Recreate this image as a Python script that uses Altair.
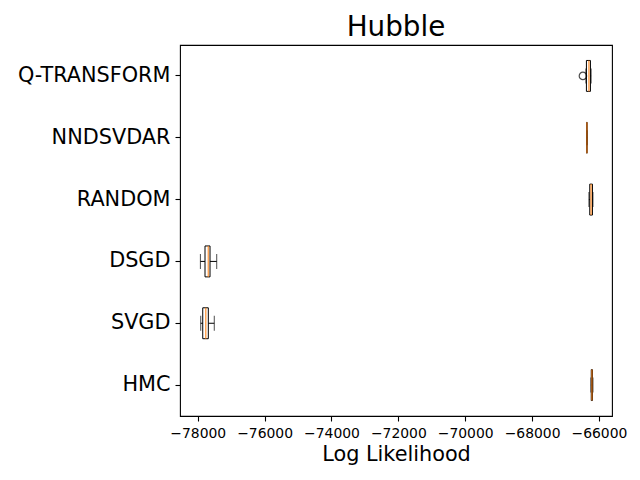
import altair as alt
import pandas as pd

methods = ["Q-TRANSFORM", "NNDSVDAR", "RANDOM", "DSGD", "SVGD", "HMC"]
whisker_lo = [-66390, -66370, -66300, -77920, -77910, -66240]
q1 = [-66375, -66365, -66275, -77782, -77850, -66230]
median = [-66300, -66360, -66235, -77683, -77760, -66210]
q3 = [-66255, -66355, -66195, -77632, -77683, -66195]
whisker_hi = [-66235, -66350, -66180, -77432, -77505, -66180]

outlier_methods = ["Q-TRANSFORM"]
outlier_values = [-66480]

x_ticks = [-78000, -76000, -74000, -72000, -70000, -68000, -66000]
x_domain = [-78530, -65610]

df = pd.DataFrame({"method": methods, "lo": whisker_lo, "q1": q1,
                   "med": median, "q3": q3, "hi": whisker_hi})
out = pd.DataFrame({"method": outlier_methods, "v": outlier_values})

FONT = "DejaVu Sans"
xscale = alt.Scale(domain=x_domain, nice=False, zero=False)
yenc = alt.Y("method:N", sort=methods,
             scale=alt.Scale(paddingInner=0, paddingOuter=0),
             axis=alt.Axis(title=None, labelFontSize=20.8, labelPadding=5,
                           ticks=True, tickSize=5, domain=False, grid=False))
xaxis = alt.Axis(title="Log Likelihood", titleFontSize=20.8, titleFontWeight="normal",
                 titlePadding=5, labelFontSize=13.9, values=x_ticks,
                 labelExpr="replace(format(datum.value, 'd'), '-', '\u2212')",
                 tickSize=5, labelPadding=5, domain=False, grid=False)

base = alt.Chart(df)

w1 = base.mark_rule(color="black", strokeWidth=1).encode(
    x=alt.X("lo:Q", scale=xscale, axis=xaxis), x2="q1:Q", y=yenc)
w2 = base.mark_rule(color="black", strokeWidth=1).encode(
    x=alt.X("q3:Q", scale=xscale), x2="hi:Q", y=yenc)
cap1 = base.mark_tick(color="black", size=15, thickness=1).encode(
    x=alt.X("lo:Q", scale=xscale), y=yenc)
cap2 = base.mark_tick(color="black", size=15, thickness=1).encode(
    x=alt.X("hi:Q", scale=xscale), y=yenc)
box = base.mark_bar(height=alt.RelativeBandSize(0.5), fill="white",
                    fillOpacity=0, stroke="black", strokeWidth=1).encode(
    x=alt.X("q1:Q", scale=xscale), x2="q3:Q", y=yenc)
med = base.mark_tick(color="#ff7f0e", size=31, thickness=1.5).encode(
    x=alt.X("med:Q", scale=xscale), y=yenc)
pts = alt.Chart(out).mark_point(shape="circle", filled=False, color="black",
                                size=55, strokeWidth=1.2).encode(
    x=alt.X("v:Q", scale=xscale), y=alt.Y("method:N", sort=methods))

chart = alt.layer(w1, w2, cap1, cap2, box, med, pts).properties(
    width=432, height=371,
    background="white",
    title=alt.TitleParams("Hubble", fontSize=27.8, fontWeight="normal",
                          font=FONT, anchor="middle", offset=3, color="black"),
    autosize=alt.AutoSizeParams(type="none"),
    padding={"left": 172, "top": 37, "right": 20, "bottom": 56},
).configure_view(stroke="black", strokeWidth=1.1).configure_axis(
    labelFont=FONT, titleFont=FONT, labelColor="black", titleColor="black",
    tickColor="black", tickWidth=1.1
).configure_title(font=FONT)

chart.save("out.html", embed_options={"renderer": "svg", "actions": False})
